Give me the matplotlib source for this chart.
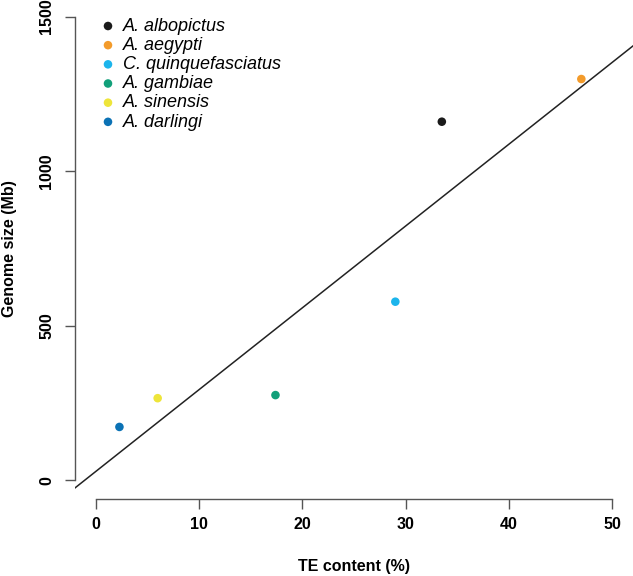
import numpy as np
import matplotlib
matplotlib.use("Agg")
import matplotlib.pyplot as plt

plt.rcParams['font.family'] = ['Liberation Sans', 'DejaVu Sans']

# data
species = ['A. albopictus', 'A. aegypti', 'C. quinquefasciatus',
           'A. gambiae', 'A. sinensis', 'A. darlingi']
te_content = [33.5, 47.0, 29.0, 17.4, 6.0, 2.3]      # %
genome_size = [1160, 1298, 578, 276, 266, 173]      # Mb
colors = ['#1a1a1a', '#f39b2b', '#1cb5ec', '#12a07a', '#eee53a', '#0b72b5']

xticks = [0, 10, 20, 30, 40, 50]
yticks = [0, 500, 1000, 1500]

fig = plt.figure(figsize=(6.33, 5.76), dpi=100)
# plot region, in figure fractions (R style: axes sit on the region edge)
ax = fig.add_axes([75 / 633, 77 / 576, 558 / 633, 501 / 576])

for x, y, c, name in zip(te_content, genome_size, colors, species):
    ax.scatter(x, y, s=38, color=c, edgecolors='none', label=name, zorder=3)

# least squares line through all species
slope, intercept = np.polyfit(te_content, genome_size, 1)
ax.axline((0, intercept), slope=slope, color='#222222', lw=1.1, zorder=2)

ax.set_xlim(-2, 52)
ax.set_ylim(-60, 1560)

for side in ['top', 'right']:
    ax.spines[side].set_visible(False)
ax.spines['left'].set_bounds(0, 1500)
ax.spines['bottom'].set_bounds(0, 50)
for side in ['left', 'bottom']:
    ax.spines[side].set_color('#555555')
    ax.spines[side].set_linewidth(1.0)

ax.set_xticks(xticks)
ax.set_yticks(yticks)
ax.tick_params(axis='both', direction='out', length=7, width=1.0,
               color='#555555', labelsize=11.5)
ax.tick_params(axis='x', pad=6)
ax.tick_params(axis='y', pad=8)
for lab in ax.get_xticklabels() + ax.get_yticklabels():
    lab.set_fontweight('bold')
for lab in ax.get_yticklabels():
    lab.set_rotation(90)
    lab.set_va('center')

ax.set_xlabel('TE content (%)', fontsize=11.5, fontweight='bold', va='center')
ax.set_ylabel('Genome size (Mb)', fontsize=11.5, fontweight='bold', va='center')
ax.xaxis.set_label_coords(0.5, -0.134)
ax.yaxis.set_label_coords(-0.118, 0.5)

leg = ax.legend(loc='upper left', bbox_to_anchor=(0.03, 0.975), frameon=False,
                prop={'size': 13, 'style': 'italic'}, handletextpad=0.35,
                labelspacing=0.12, borderaxespad=0, handlelength=1.0)

fig.savefig('out.png', dpi=100)
